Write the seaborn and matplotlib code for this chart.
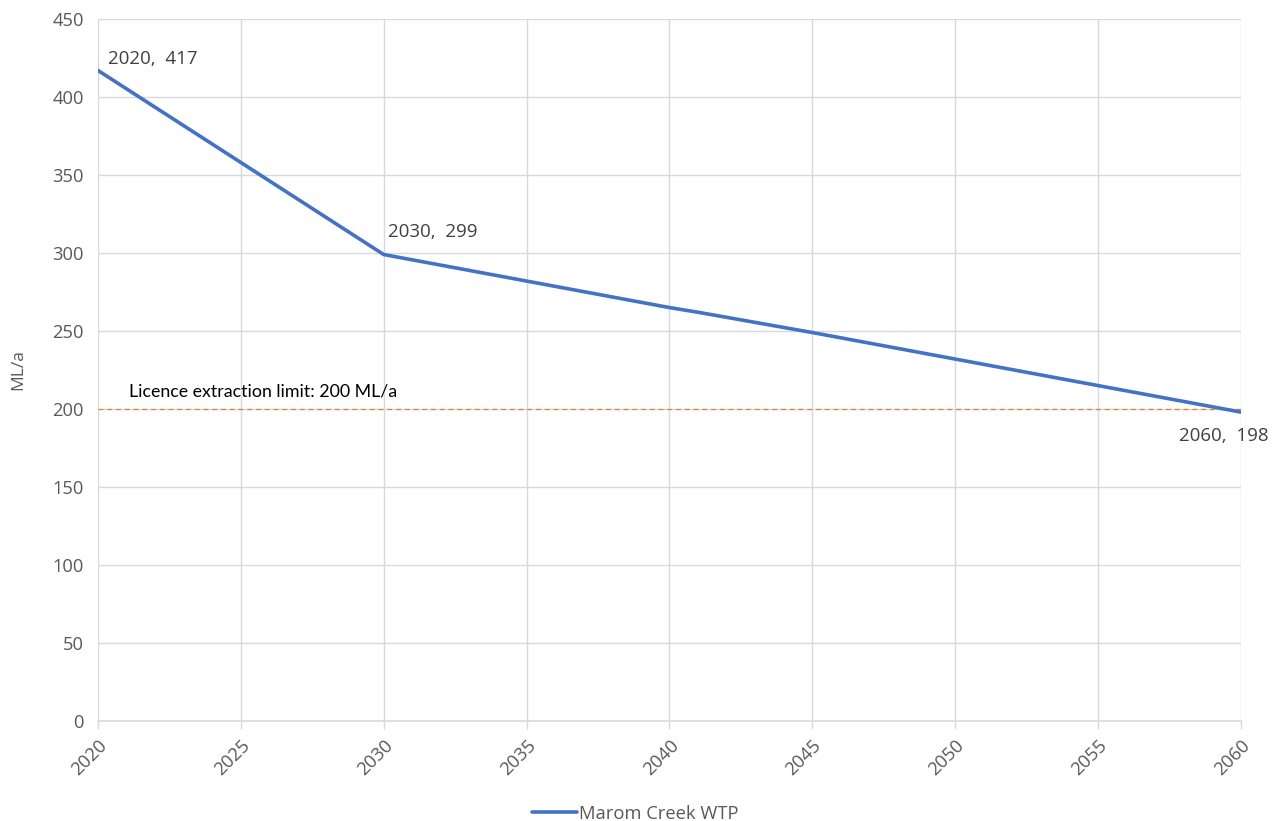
import pandas as pd
import matplotlib
matplotlib.use("Agg")
import matplotlib.pyplot as plt
import seaborn as sns

# data
years = [2020, 2025, 2030, 2035, 2040, 2041, 2045, 2050, 2055, 2060]
demand = [417, 358, 299, 282, 265, 262, 249, 232, 215, 198]
series_name = "Marom Creek WTP"
licence_limit = 200
labelled_years = [2020, 2030, 2060]
x_ticks = [2020, 2025, 2030, 2035, 2040, 2045, 2050, 2055, 2060]
y_ticks = [0, 50, 100, 150, 200, 250, 300, 350, 400, 450]

df = pd.DataFrame({"Year": years, "ML/a": demand})

sns.set_theme(style="white")
plt.rcParams["font.family"] = ["Open Sans", "DejaVu Sans"]

fig = plt.figure(figsize=(12.84, 8.21), dpi=100)
ax = fig.add_axes([0.0763, 0.1218, 0.8902, 0.8551])

grey = "#595959"
grid = "#d9d9d9"

sns.lineplot(data=df, x="Year", y="ML/a", ax=ax, color="#4472C4",
             linewidth=2.6, label=series_name)

# licence limit line
ax.axhline(licence_limit, color="#ED7D31", linewidth=0.9, linestyle=(0, (4, 3)), zorder=1)
ax.text(2021.1, licence_limit + 6, "Licence extraction limit: 200 ML/a",
        family=["Lato", "DejaVu Sans"], fontsize=12.8, color="black",
        ha="left", va="bottom")

# data labels
offsets = {2020: (0.35, 7.5, "left"),
           2030: (0.15, 14.5, "left"),
           2060: (-0.6, -15, "center")}
for yr in labelled_years:
    v = demand[years.index(yr)]
    dx, dy, ha = offsets[yr]
    ax.text(yr + dx, v + dy, f"{yr},  {v}", fontsize=13.5, color="#404040",
            ha=ha, va="center")

ax.set_xlim(2020, 2060)
ax.set_ylim(0, 450)
ax.set_xticks(x_ticks)
ax.set_yticks(y_ticks)
ax.grid(True, color=grid, linewidth=1)
ax.set_axisbelow(True)
for s in ["top", "right", "left"]:
    ax.spines[s].set_visible(False)
ax.spines["bottom"].set_color(grid)
ax.spines["bottom"].set_linewidth(1.2)

ax.tick_params(axis="x", colors=grid, labelcolor=grey, labelsize=13.2,
               direction="out", length=6, width=1, bottom=True, pad=5)
ax.tick_params(axis="y", labelcolor=grey, labelsize=13.2, length=0, pad=10)
plt.setp(ax.get_xticklabels(), rotation=45, ha="right", rotation_mode="anchor")

ax.set_xlabel("")
ax.set_ylabel("ML/a", fontsize=12.5, color=grey, labelpad=19)

leg = ax.legend(loc="center", bbox_to_anchor=(0.47, -0.132), frameon=False,
                fontsize=13.2, handlelength=2.5, handletextpad=0.1)
for t in leg.get_texts():
    t.set_color(grey)

fig.savefig("out.png", dpi=100)
